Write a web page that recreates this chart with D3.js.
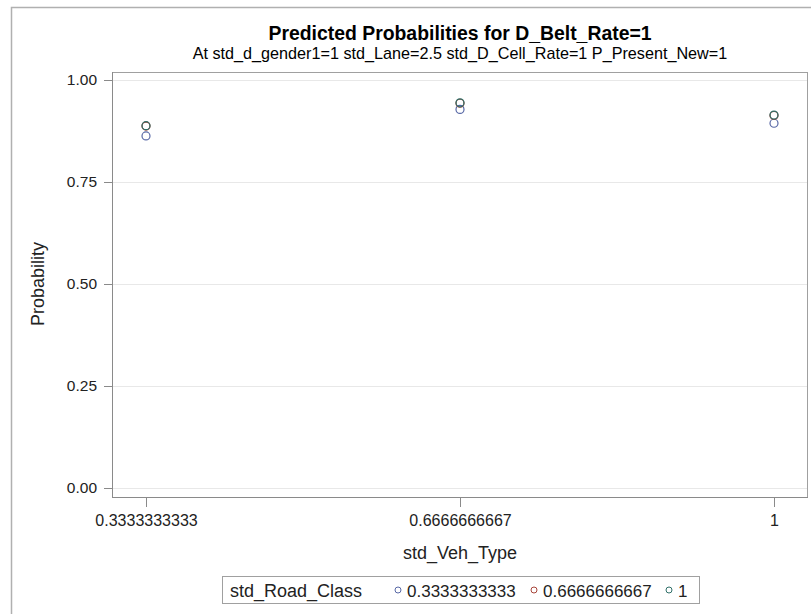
<!DOCTYPE html>
<html>
<head>
<meta charset="utf-8">
<script src="https://cdn.jsdelivr.net/npm/d3@7"></script>
<style>
  html, body { margin: 0; padding: 0; background: #fff; }
  svg { display: block; font-family: "Liberation Sans", Arial, sans-serif; }
</style>
</head>
<body>
<svg id="chart" width="811" height="614"></svg>
<script>
// Predicted probabilities by vehicle type, one series per road class
const vehTypes = [0.3333333333, 0.6666666667, 1];
const vehTypeLabels = ["0.3333333333", "0.6666666667", "1"];
const roadClasses = ["0.3333333333", "0.6666666667", "1"];
const probRoadClass1 = [0.863, 0.928, 0.894];
const probRoadClass2 = [0.887, 0.943, 0.913];
const probRoadClass3 = [0.888, 0.944, 0.914];
const yTicks = [0, 0.25, 0.5, 0.75, 1];
const seriesColors = ["#5868a6", "#a8453a", "#2f6f68"];

const series = [probRoadClass1, probRoadClass2, probRoadClass3].map((vals, i) => ({
  name: roadClasses[i],
  color: seriesColors[i],
  points: vals.map((v, j) => ({ x: vehTypes[j], y: v }))
}));

const svg = d3.select("#chart");
const plot = { left: 112, right: 807, top: 72, bottom: 497 };

const x = d3.scaleLinear().domain([vehTypes[0], vehTypes[2]]).range([146, 774]);
const y = d3.scaleLinear().domain([0, 1]).range([488, 80]);

// outer frame
svg.append("path")
  .attr("d", "M11.5,614 V7.5 H811")
  .attr("fill", "none").attr("stroke", "#b0b0b0").attr("stroke-width", 1.5);

// titles
svg.append("text").attr("x", 460).attr("y", 40).attr("text-anchor", "middle")
  .attr("font-size", 19.4).attr("font-weight", "bold").attr("fill", "#000")
  .text("Predicted Probabilities for D_Belt_Rate=1");
svg.append("text").attr("x", 460).attr("y", 59).attr("text-anchor", "middle")
  .attr("font-size", 16.2).attr("fill", "#000")
  .text("At std_d_gender1=1 std_Lane=2.5 std_D_Cell_Rate=1 P_Present_New=1");

// gridlines
svg.append("g").selectAll("line").data(yTicks).join("line")
  .attr("x1", plot.left).attr("x2", plot.right)
  .attr("y1", d => y(d) + 0.5).attr("y2", d => y(d) + 0.5)
  .attr("stroke", "#e8e8e8").attr("stroke-width", 1);

// plot frame
svg.append("rect")
  .attr("x", plot.left + 0.5).attr("y", plot.top + 0.5)
  .attr("width", plot.right - plot.left).attr("height", plot.bottom - plot.top)
  .attr("fill", "none").attr("stroke", "#a0a0a0").attr("stroke-width", 1);
svg.append("line")
  .attr("x1", plot.left + 0.5).attr("x2", plot.left + 0.5)
  .attr("y1", plot.top).attr("y2", plot.bottom + 1)
  .attr("stroke", "#8a8a8a");
svg.append("line")
  .attr("x1", plot.left).attr("x2", plot.right + 1)
  .attr("y1", plot.bottom + 0.5).attr("y2", plot.bottom + 0.5)
  .attr("stroke", "#8a8a8a");

// y axis
const yAxis = d3.axisLeft(y).tickValues(yTicks).tickFormat(d3.format(".2f"))
  .tickSize(8).tickPadding(7);
const gy = svg.append("g").attr("transform", `translate(${plot.left},0)`).call(yAxis);
gy.select(".domain").remove();
gy.selectAll(".tick line").attr("stroke", "#8a8a8a");
gy.selectAll(".tick text").attr("font-size", 15.5).attr("fill", "#222")
  .attr("font-family", "Liberation Sans, Arial, sans-serif");

// x axis
const xAxis = d3.axisBottom(x).tickValues(vehTypes)
  .tickFormat((d, i) => vehTypeLabels[i]).tickSize(10).tickPadding(8);
const gx = svg.append("g").attr("transform", `translate(0,${plot.bottom})`).call(xAxis);
gx.select(".domain").remove();
gx.selectAll(".tick line").attr("stroke", "#8a8a8a");
gx.selectAll(".tick text").attr("font-size", 16).attr("fill", "#222")
  .attr("font-family", "Liberation Sans, Arial, sans-serif");

// axis titles
svg.append("text").attr("x", 460).attr("y", 559).attr("text-anchor", "middle")
  .attr("font-size", 18).attr("fill", "#222").text("std_Veh_Type");
svg.append("text").attr("transform", "translate(44,284) rotate(-90)")
  .attr("text-anchor", "middle").attr("font-size", 18).attr("fill", "#222")
  .text("Probability");

// markers
series.forEach(s => {
  svg.append("g").selectAll("circle").data(s.points).join("circle")
    .attr("cx", d => x(d.x)).attr("cy", d => y(d.y)).attr("r", 4)
    .attr("fill", "none").attr("stroke", s.color).attr("stroke-width", 1.2);
});

// legend
const legend = svg.append("g");
legend.append("rect").attr("x", 222.5).attr("y", 576.5).attr("width", 477).attr("height", 27)
  .attr("fill", "#fff").attr("stroke", "#a0a0a0");
legend.append("text").attr("x", 230).attr("y", 597).attr("font-size", 18).attr("fill", "#222")
  .text("std_Road_Class");
const legendItemX = [398, 534, 669];
series.forEach((s, i) => {
  legend.append("circle").attr("cx", legendItemX[i]).attr("cy", 590).attr("r", 3)
    .attr("fill", "none").attr("stroke", s.color).attr("stroke-width", 1);
  legend.append("text").attr("x", legendItemX[i] + 9).attr("y", 597)
    .attr("font-size", 17).attr("fill", "#222").text(s.name);
});
</script>
</body>
</html>
